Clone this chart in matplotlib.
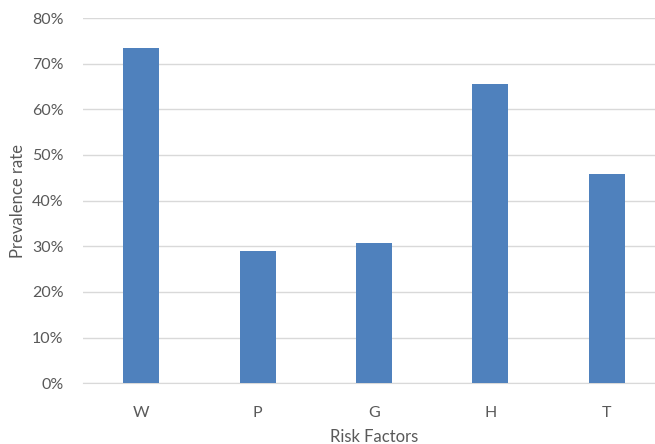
import matplotlib
matplotlib.use('Agg')
import matplotlib.pyplot as plt
from matplotlib.ticker import PercentFormatter

# Prevalence of each risk factor (%)
factors = ['W', 'P', 'G', 'H', 'T']
prevalence = [73.5, 29.0, 30.7, 65.5, 45.8]
y_ticks = [0, 10, 20, 30, 40, 50, 60, 70, 80]

plt.rcParams['font.family'] = ['Lato', 'DejaVu Sans']
text_color = '#595959'

fig = plt.figure(figsize=(6.55, 4.44), dpi=100)
# axes runs a little past the right edge of the figure
ax = fig.add_axes([83 / 655, (444 - 383.3) / 444, (665 - 83) / 655, (383.3 - 18) / 444])

x = range(len(factors))
ax.bar(x, prevalence, width=0.31, color='#4F81BD', zorder=3)

ax.set_xlim(-0.5, len(factors) - 0.5)
ax.set_ylim(0, 80)
ax.set_yticks(y_ticks)
ax.yaxis.set_major_formatter(PercentFormatter(decimals=0))
ax.set_xticks(list(x))
ax.set_xticklabels(factors)

ax.grid(axis='y', color='#D9D9D9', linewidth=1, zorder=0)
for side in ['top', 'right', 'left']:
    ax.spines[side].set_visible(False)
ax.spines['bottom'].set_color('#D9D9D9')
ax.tick_params(axis='both', length=0, labelsize=11.5, colors=text_color)
ax.tick_params(axis='y', pad=14)
ax.tick_params(axis='x', pad=16)

ax.set_xlabel('Risk Factors', fontsize=12, color=text_color, labelpad=7)
ax.set_ylabel('Prevalence rate', fontsize=12, color=text_color, labelpad=4)

fig.savefig('out.png', dpi=100)
